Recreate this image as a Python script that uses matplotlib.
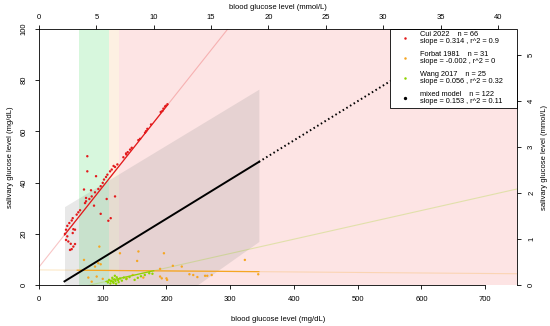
import matplotlib
matplotlib.use("Agg")
import matplotlib.pyplot as plt
import numpy as np
from matplotlib.lines import Line2D

plt.rcParams['font.family'] = ['Liberation Sans', 'DejaVu Sans']

# --- data ---
cui_blood = [201.5, 197.8, 195.2, 193.6, 191.0, 175.8, 168.0, 166.4, 158.6, 155.9,
             145.5, 142.9, 139.2, 136.6, 132.4, 123.0, 119.3, 114.1, 111.5, 107.3,
             105.2, 102.0, 100.0, 96.8, 93.1, 87.9, 82.7, 79.0, 73.8, 72.2,
             75.8, 75.8, 89.5, 70.6, 81.6, 73.8, 86.3, 96.8, 106.2, 119.3, 112.5, 108.8,
             64.4, 61.7, 59.1, 52.9, 51.3, 47.6, 44.4, 42.4, 40.8, 44.4,
             42.4, 46.0, 49.8, 53.9, 56.5, 52.9, 56.5, 53.9, 51.3, 48.7,
             117.0, 137.0, 170.0, 199.0]
cui_saliva = [70.6, 69.7, 68.9, 68.0, 67.6, 62.7, 60.1, 59.5, 57.1, 56.6,
              53.6, 52.9, 51.9, 51.4, 49.9, 47.1, 46.1, 45.1, 44.4, 43.1,
              42.2, 41.2, 39.9, 38.6, 37.5, 36.2, 34.6, 33.6, 32.7, 32.0,
              50.3, 44.4, 42.5, 37.3, 37.0, 34.0, 31.0, 27.8, 33.6, 34.6, 26.1, 25.1,
              29.2, 28.4, 27.5, 26.1, 25.2, 24.2, 23.1, 21.6, 20.0, 19.0,
              17.6, 17.0, 16.1, 21.8, 21.6, 20.3, 16.0, 15.0, 14.0, 13.7,
              46.5, 51.0, 61.0, 70.0]

forbat_blood = [94.7, 70.6, 87.9, 96.8, 127, 156, 154, 190, 77.4, 90.5,
                100, 137.6, 147, 163.7, 190, 200, 196, 210, 224, 192.6,
                201, 236, 242, 248.5, 260.6, 264, 271, 323, 344, 82.7, 93]
forbat_saliva = [15.0, 9.8, 7.2, 8.1, 12.4, 13.1, 9.4, 6.3, 2.9, 3.3,
                 2.4, 2.6, 3.9, 2.9, 3.3, 2.6, 12.4, 7.5, 7.2, 2.6,
                 2.0, 4.2, 3.9, 3.1, 3.6, 3.6, 3.9, 9.8, 4.2, 1.3, 8.5]

wang_blood = [108, 110, 112, 113, 115, 116, 117, 118, 119, 120, 121, 122, 124,
              125, 127, 130, 133, 137, 142, 150, 155, 160, 166, 173, 178]
wang_saliva = [1.0, 2.0, 0.6, 1.5, 2.8, 1.2, 0.8, 2.2, 3.6, 1.6, 0.5, 3.0, 1.9,
               1.1, 2.5, 1.7, 2.9, 2.3, 3.1, 2.0, 2.8, 3.4, 3.9, 4.6, 4.4]

# regression fits: slope, intercept, data range
studies = ['Cui 2022', 'Forbat 1981', 'Wang 2017']
slopes = [0.314, -0.002, 0.056]
intercepts = [7.0, 5.9, -4.5]
ranges = [(40, 202), (60, 345), (105, 180)]
colors = ['#e31a1c', '#f5a623', '#8fd400']
ns = [66, 31, 25]
r2 = ['0.9', '0', '0.32']

mixed_slope, mixed_intercept = 0.153, -4.7
mixed_r2 = '0.11'
mixed_range = (40, 345)
band_x = [40, 345]
band_lo = [-36.6, 17.0]
band_hi = [30.6, 76.5]

# reference ranges of blood glucose (mg/dL)
normal_rng = (63, 110)
impaired_rng = (110, 126)
diabetic_rng = (126, 750)

xmax, ymax = 750, 100
mmol = 18.0

fig = plt.figure(figsize=(5.5, 3.26), dpi=100)
ax = fig.add_axes([39/550, 1 - 285/326, 478/550, 256/326])
ax.set_xlim(0, xmax)
ax.set_ylim(0, ymax)

ax.axvspan(*normal_rng, color='#d7f7dd', lw=0, zorder=0)
ax.axvspan(*impaired_rng, color='#fdf0e2', lw=0, zorder=0)
ax.axvspan(*diabetic_rng, color='#fde4e4', lw=0, zorder=0)
ax.axvline(diabetic_rng[1], color='#c9a8a8', lw=0.6, zorder=0.5)

# confidence band of mixed model
ax.fill_between(band_x, band_lo, band_hi, color='#8c8c8c', alpha=0.2, lw=0, zorder=1)

xs_full = np.array([0, xmax])
for s, b, (x0, x1), c in zip(slopes, intercepts, ranges, colors):
    ax.plot(xs_full, s * xs_full + b, color=c, alpha=0.25, lw=0.8, zorder=2)
    xr = np.array([x0, x1])
    ax.plot(xr, s * xr + b, color=c, lw=0.9, zorder=4)

for xb, ys, c in [(cui_blood, cui_saliva, colors[0]),
                  (forbat_blood, forbat_saliva, colors[1]),
                  (wang_blood, wang_saliva, colors[2])]:
    ax.scatter(xb, ys, s=3, color=c, edgecolors='none', zorder=3)

xm = np.array(mixed_range)
ax.plot(xm, mixed_slope * xm + mixed_intercept, color='black', lw=1.4, zorder=5)
xd = np.array([mixed_range[1], xmax])
ax.plot(xd, mixed_slope * xd + mixed_intercept, color='black', lw=1.4,
        ls=(0, (0.8, 1.4)), zorder=5)

# axes styling (R-like: axis lines span only the tick range)
for side in ['top', 'right']:
    ax.spines[side].set_visible(False)
ax.spines['bottom'].set_bounds(0, 700)
ax.spines['left'].set_bounds(0, 100)
for sp in ax.spines.values():
    sp.set_linewidth(0.6)
ax.set_xticks(np.arange(0, 701, 100))
ax.set_yticks(np.arange(0, 101, 20))
ax.tick_params(labelsize=5.5, length=3, width=0.6, pad=5)
for lab in ax.get_yticklabels():
    lab.set_rotation(90)
    lab.set_va('center')
ax.set_xlabel('blood glucose level (mg/dL)', fontsize=5.5, labelpad=9)
ax.set_ylabel('salivary glucose level (mg/dL)', fontsize=5.5, labelpad=5)

top_ticks = np.arange(0, 41, 5)
right_ticks = np.arange(0, 6, 1)
ax.plot([0, top_ticks[-1] * mmol], [ymax, ymax], color='black', lw=0.6,
        clip_on=False, zorder=20)
ax.plot([xmax, xmax], [0, right_ticks[-1] * mmol], color='black', lw=0.6,
        clip_on=False, zorder=20)

top = ax.secondary_xaxis('top', functions=(lambda x: x / mmol, lambda x: x * mmol))
top.set_xticks(top_ticks)
for sp in top.spines.values():
    sp.set_color('none')
top.tick_params(labelsize=5.5, length=3, width=0.6, pad=3, color='black')
top.set_xlabel('blood glucose level (mmol/L)', fontsize=5.5, labelpad=3)

right = ax.secondary_yaxis('right', functions=(lambda y: y / mmol, lambda y: y * mmol))
right.set_yticks(right_ticks)
for sp in right.spines.values():
    sp.set_color('none')
right.tick_params(labelsize=5.5, length=3, width=0.6, pad=5, color='black')
for lab in right.get_yticklabels():
    lab.set_rotation(90)
    lab.set_va('center')
right.set_ylabel('salivary glucose level (mmol/L)', fontsize=5.5, labelpad=4,
                 rotation=90)

handles = [Line2D([], [], ls='', marker='o', markersize=1.8, color=c,
                  markeredgewidth=0) for c in colors]
handles.append(Line2D([], [], ls='', marker='o', markersize=2.4, color='black',
                      markeredgewidth=0))
labels = [f'{st}    n = {n}\nslope = {s} , r^2 = {r}'
          for st, n, s, r in zip(studies, ns, slopes, r2)]
labels.append(f'mixed model    n = {sum(ns)}\nslope = {mixed_slope} , r^2 = {mixed_r2}')
leg_x0 = (390 - 39) / 478
leg = ax.legend(handles, labels, loc='upper left',
                bbox_to_anchor=(leg_x0, 0, 1 - leg_x0, 1), mode='expand',
                borderaxespad=0, fontsize=5.3, frameon=True, fancybox=False,
                framealpha=1, edgecolor='black', labelspacing=0.82,
                handletextpad=0.2, borderpad=0.3, handlelength=3.6)
for t in leg.get_texts():
    t.set_linespacing(1.0)
leg.get_frame().set_linewidth(0.6)
leg.set_zorder(10)

fig.savefig('out.png', dpi=100)
